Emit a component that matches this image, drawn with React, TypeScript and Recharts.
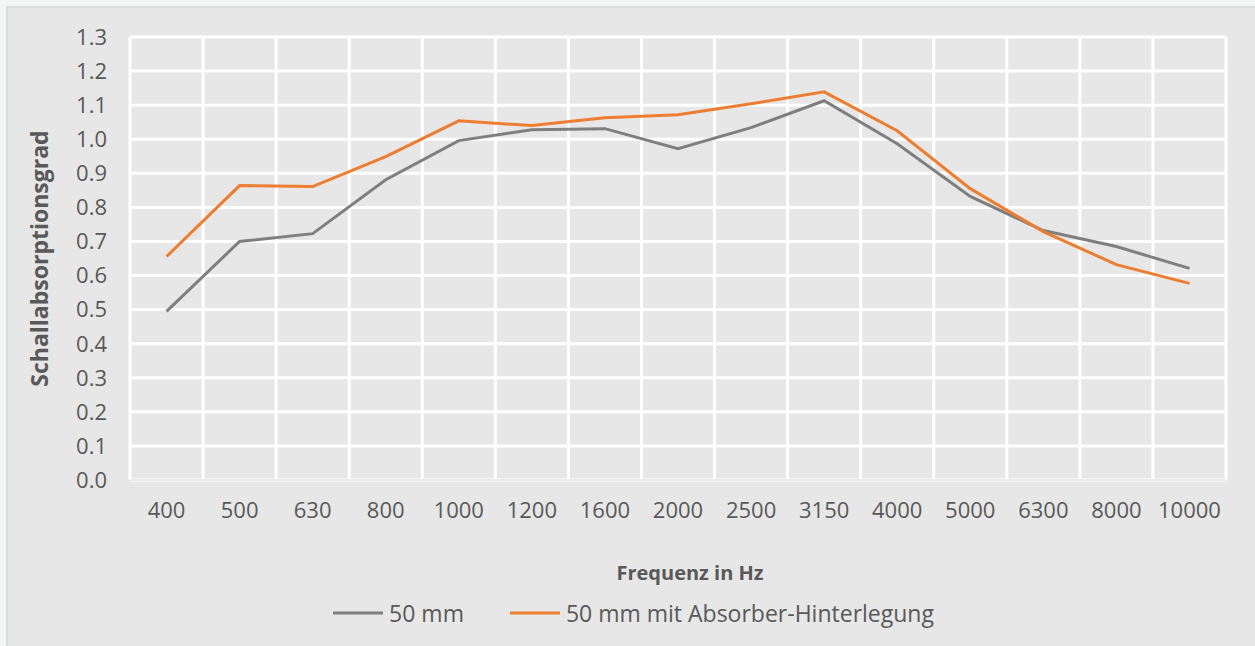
import React from 'react';
import { LineChart, Line, XAxis, YAxis, CartesianGrid, Legend, Label } from 'recharts';

const categories = ['400', '500', '630', '800', '1000', '1200', '1600', '2000', '2500', '3150', '4000', '5000', '6300', '8000', '10000'];
const series50 = [0.495, 0.70, 0.723, 0.881, 0.996, 1.028, 1.031, 0.972, 1.034, 1.113, 0.987, 0.832, 0.732, 0.685, 0.621];
const seriesAbs = [0.656, 0.864, 0.861, 0.949, 1.054, 1.04, 1.063, 1.072, 1.104, 1.139, 1.025, 0.855, 0.729, 0.632, 0.577];
const yTicks = [0, 0.1, 0.2, 0.3, 0.4, 0.5, 0.6, 0.7, 0.8, 0.9, 1.0, 1.1, 1.2, 1.3];

const data = categories.map((c, i) => ({ freq: c, a: series50[i], b: seriesAbs[i] }));

const FONT = '"Open Sans", "Noto Sans", sans-serif';
const TEXT = '#595959';

const LegendContent = (props: any) => {
  const { payload } = props;
  return (
    <div style={{ display: 'flex', justifyContent: 'center', alignItems: 'center', fontFamily: FONT, fontSize: 23, color: TEXT, paddingLeft: 12 }}>
      {payload.map((p: any, i: number) => (
        <div key={i} style={{ display: 'flex', alignItems: 'center', marginRight: i === 0 ? 46 : 0 }}>
          <svg width={50} height={10} style={{ marginRight: 6 }}>
            <line x1={0} y1={5} x2={50} y2={5} stroke={p.color} strokeWidth={3} />
          </svg>
          <span>{p.value}</span>
        </div>
      ))}
    </div>
  );
};

const verticalGrid = ({ offset }: any) =>
  Array.from({ length: categories.length + 1 }, (_, i) => offset.left + (i * offset.width) / categories.length);

export default function App() {
  return (
    <div style={{ position: 'fixed', left: 0, top: 0, width: 1255, height: 646, background: '#f3f4f4', overflow: 'hidden' }}>
      <div style={{ position: 'absolute', left: 6, top: 6, width: 1270, height: 660, background: '#e7e7e7', border: '2px solid #dcdddd' }} />
      <div style={{ position: 'absolute', left: 0, top: 0 }}>
        <LineChart width={1255} height={646} data={data} margin={{ top: 37, right: 29, bottom: 104, left: 80 }}>
          <CartesianGrid stroke="#ffffff" strokeWidth={3} verticalCoordinatesGenerator={verticalGrid} />
          <XAxis
            dataKey="freq"
            type="category"
            scale="band"
            height={30}
            tickLine={false}
            tickSize={0}
            tickMargin={22}
            axisLine={{ stroke: '#d6d6d6', strokeWidth: 1 }}
            tick={{ fill: TEXT, fontSize: 22, fontFamily: FONT }}
            interval={0}
          >
            <Label value="Frequenz in Hz" position="bottom" offset={56} dx={12} style={{ fill: TEXT, fontSize: 20, fontWeight: 700, fontFamily: FONT }} />
          </XAxis>
          <YAxis
            domain={[0, 1.3]}
            ticks={yTicks}
            width={50}
            tickLine={false}
            axisLine={false}
            tickSize={0}
            tickMargin={23}
            interval={0}
            tickFormatter={(v: number) => v.toFixed(1)}
            tick={{ fill: TEXT, fontSize: 22, fontFamily: FONT }}
          >
            <Label value="Schallabsorptionsgrad" angle={-90} position="center" dx={-65} style={{ fill: TEXT, fontSize: 23, fontWeight: 700, fontFamily: FONT, textAnchor: 'middle' }} />
          </YAxis>
          <Line type="linear" dataKey="a" name="50 mm" stroke="#7f7f7f" strokeWidth={3} dot={false} isAnimationActive={false} />
          <Line type="linear" dataKey="b" name="50 mm mit Absorber-Hinterlegung" stroke="#ed7d31" strokeWidth={3} dot={false} isAnimationActive={false} />
          <Legend content={<LegendContent />} wrapperStyle={{ position: 'absolute', left: 0, top: 597, width: 1255, height: 32 }} />
        </LineChart>
      </div>
    </div>
  );
}
